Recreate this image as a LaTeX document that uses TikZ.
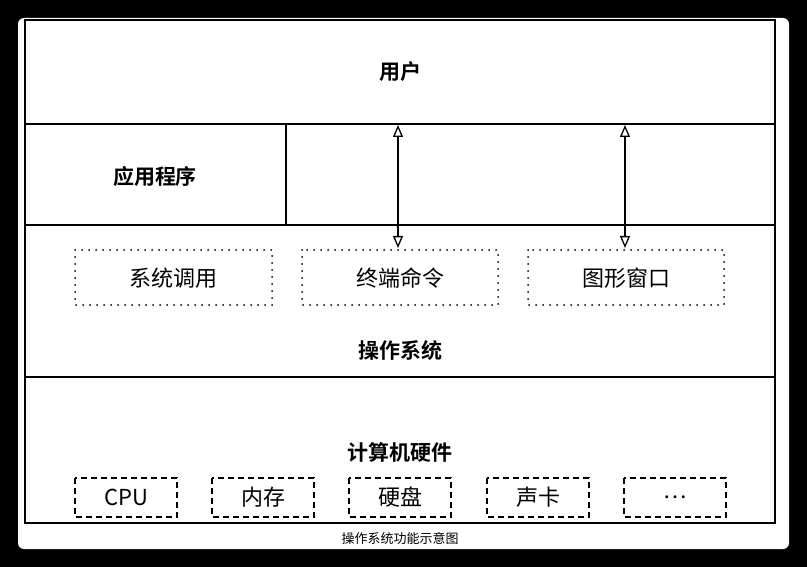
\documentclass[tikz,border=0pt]{standalone}
\usepackage{fontspec}
\setmainfont{Noto Sans CJK SC}[BoldFont={Noto Sans CJK SC Bold}]
\usetikzlibrary{arrows.meta}
\tikzset{
  soft/.style={line width=2pt,line cap=round,dash pattern=on 0pt off 7pt},
  hw/.style={line width=1.6pt,dash pattern=on 6pt off 4pt},
  title/.style={font=\bfseries\fontsize{21}{21}\selectfont},
  item/.style={font=\fontsize{22}{22}\selectfont},
  tip/.style={{Triangle[open,length=12pt,width=10pt]}-{Triangle[open,length=12pt,width=10pt]},line width=1.3pt}
}
\begin{document}
\begin{tikzpicture}[x=1pt,y=-1pt]
  \fill[black] (0,0) rectangle (807,567);
  \fill[white,rounded corners=6pt] (18,18) rectangle (789,549);

  % layers
  \draw[line width=1.6pt] (25,20) rectangle (775,523);
  \draw[line width=1.6pt] (25,124) -- (775,124);
  \draw[line width=1.6pt] (25,225) -- (775,225);
  \draw[line width=1.6pt] (25,377) -- (775,377);
  \draw[line width=1.6pt] (286,124) -- (286,225);

  \node[title] (user) at (400,72) {用户};
  \node[title] (app) at (155,176) {应用程序};
  \node[title] (os) at (400,350) {操作系统};
  \node[title] (hw) at (400,452) {计算机硬件};

  % os services
  \draw[soft] (75,250) rectangle (272,305);
  \node[item] (call) at (173,278) {系统调用};
  \draw[soft] (302,250) rectangle (498,305);
  \node[item] (term) at (400,278) {终端命令};
  \draw[soft] (528,250) rectangle (724,305);
  \node[item] (gui) at (626,278) {图形窗口};

  \coordinate (u1) at (398,125);
  \coordinate (t1) at (398,248);
  \coordinate (u2) at (625,125);
  \coordinate (g1) at (625,248);
  \draw[tip] (u1) -- (t1);
  \draw[tip] (u2) -- (g1);

  % hardware
  \foreach \x/\t [count=\i] in {75/CPU,212/内存,349/硬盘,487/声卡,624/\dots}{
    \draw[hw] (\x,478) rectangle ++(102,39);
    \node[item] (dev\i) at (\x+51,497) {\t};
  }

  \node[font=\fontsize{13}{13}\selectfont] (cap) at (400,539) {操作系统功能示意图};
\end{tikzpicture}
\end{document}
